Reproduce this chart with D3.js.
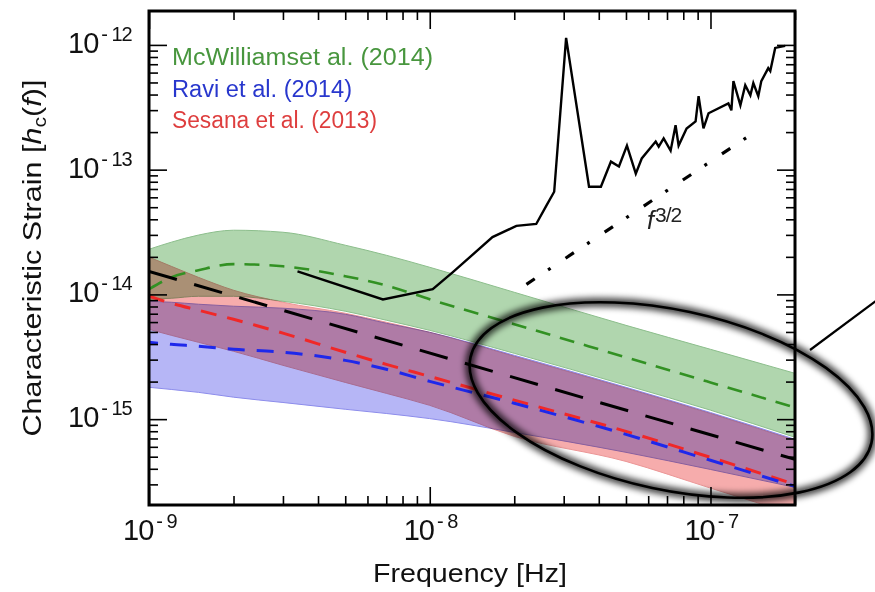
<!DOCTYPE html>
<html><head><meta charset="utf-8">
<script src="https://cdn.jsdelivr.net/npm/d3@7"></script>
<style>
body{margin:0;background:#fff;}
svg{display:block;}
text{font-family:"Liberation Sans",Arial,Helvetica,sans-serif;}
.band{mix-blend-mode:multiply;}
</style>
</head><body>
<svg id="chart" width="875" height="592"></svg>
<script>
// ---------------- data ----------------
const freq = [1e-9,1.2e-9,1.5e-9,2e-9,3e-9,5e-9,7e-9,1e-8,2e-8,5e-8,1e-7,2e-7];

const mcwUpper  = [2.30e-14,2.62e-14,2.99e-14,3.27e-14,3.15e-14,2.48e-14,2.06e-14,1.65e-14,1.04e-14,5.65e-15,3.63e-15,2.33e-15];
const mcwLower  = [9.14e-15,9.31e-15,9.66e-15,9.66e-15,8.81e-15,7.33e-15,6.21e-15,5.15e-15,3.37e-15,1.87e-15,1.18e-15,7.15e-16];
const mcwMedian = [1.10e-14,1.37e-14,1.56e-14,1.75e-14,1.68e-14,1.40e-14,1.18e-14,9.14e-15,5.77e-15,3.13e-15,1.97e-15,1.24e-15];

const raviUpper  = [8.81e-15,8.65e-15,8.34e-15,8.04e-15,7.75e-15,6.93e-15,5.87e-15,4.97e-15,3.25e-15,1.80e-15,1.13e-15,6.89e-16];
const raviLower  = [1.80e-15,1.73e-15,1.64e-15,1.50e-15,1.36e-15,1.20e-15,1.11e-15,1.01e-15,7.83e-16,5.42e-16,3.95e-16,2.84e-16];
const raviMedian = [4.13e-15,3.98e-15,3.84e-15,3.63e-15,3.44e-15,2.96e-15,2.51e-15,2.01e-15,1.34e-15,7.55e-16,4.68e-16,2.89e-16];

const sesUpper  = [1.99e-14,1.68e-14,1.37e-14,1.08e-14,8.65e-15,7.06e-15,5.98e-15,4.97e-15,3.19e-15,1.77e-15,1.11e-15,6.76e-16];
const sesLower  = [5.25e-15,4.70e-15,4.13e-15,3.50e-15,2.70e-15,1.97e-15,1.61e-15,1.29e-15,7.28e-16,4.58e-16,2.80e-16,1.72e-16];
const sesMedian = [9.66e-15,8.49e-15,7.46e-15,6.32e-15,4.89e-15,3.44e-15,2.75e-15,2.20e-15,1.42e-15,7.98e-16,4.94e-16,3.00e-16];

const combFreq   = [1e-9, 2e-7];
const combStrain = [1.53e-14, 4.76e-16];

const ptaFreq = [3.38e-9,6.81e-9,1.025e-8,1.206e-8,1.673e-8,2.035e-8,2.395e-8,2.60e-8,2.775e-8,3.06e-8,
  3.693e-8,4.07e-8,4.42e-8,4.72e-8,5.04e-8,5.42e-8,5.69e-8,6.38e-8,6.54e-8,6.81e-8,
  7.21e-8,7.51e-8,7.70e-8,8.22e-8,8.85e-8,9.07e-8,9.44e-8,9.84e-8,1.158e-7,1.187e-7,
  1.207e-7,1.278e-7,1.330e-7,1.387e-7,1.421e-7,1.480e-7,1.517e-7,1.606e-7,1.633e-7,1.700e-7,1.845e-7];
const ptaStrain = [1.53e-14,9.12e-15,1.10e-14,1.50e-14,2.88e-14,3.54e-14,3.67e-14,5.13e-14,6.65e-14,1.14e-12,
  7.30e-14,7.30e-14,1.16e-13,1.06e-13,1.56e-13,9.29e-14,1.23e-13,1.68e-13,1.53e-13,1.78e-13,
  1.42e-13,2.27e-13,1.56e-13,2.14e-13,2.44e-13,3.88e-13,2.14e-13,2.83e-13,3.40e-13,2.99e-13,
  5.13e-13,3.28e-13,4.76e-13,3.95e-13,4.94e-13,3.88e-13,5.13e-13,6.52e-13,6.17e-13,9.46e-13,9.82e-13];

const slopeFreq   = [2.21e-8, 1.48e-7];
const slopeStrain = [1.205e-14, 2.09e-13];

const xMajorTicks = [1e-9, 1e-8, 1e-7];
const xTickExps   = ["9", "8", "7"];
const yMajorTicks = [1e-15, 1e-14, 1e-13, 1e-12];
const yTickExps   = ["15", "14", "13", "12"];

const legendLabels = ["McWilliamset al. (2014)", "Ravi et al. (2014)", "Sesana et al. (2013)"];

// ---------------- chart ----------------
const svg = d3.select("#chart");
const L = 149, R = 795, T = 11, B = 505;
const x = d3.scaleLog().domain([1e-9, 2e-7]).range([L, R]);
const y = d3.scaleLog().domain([2.05e-16, 1.87e-12]).range([B, T]);

const defs = svg.append("defs");
defs.append("clipPath").attr("id","plotclip").append("rect")
  .attr("x",L).attr("y",T).attr("width",R-L).attr("height",B-T);
const blur = defs.append("filter").attr("id","blur").attr("x","-20%").attr("y","-30%").attr("width","140%").attr("height","160%");
blur.append("feGaussianBlur").attr("stdDeviation",3.2);

const plot = svg.append("g").attr("clip-path","url(#plotclip)").style("isolation","isolate");

function band(up, lo) {
  return d3.area()
    .x((d,i)=>x(freq[i]))
    .y0((d,i)=>y(lo[i]))
    .y1((d,i)=>y(up[i]))
    .curve(d3.curveMonotoneX)(freq);
}
const bands = [
  {up:mcwUpper, lo:mcwLower, fill:"rgb(176,214,174)", stroke:"rgb(140,190,140)"},
  {up:raviUpper, lo:raviLower, fill:"rgb(182,182,246)", stroke:"rgb(140,140,235)"},
  {up:sesUpper, lo:sesLower, fill:"rgb(246,172,172)", stroke:"rgb(235,150,150)"}
];
bands.forEach(b=>{
  plot.append("path").attr("class","band").attr("d", band(b.up,b.lo))
    .attr("fill", b.fill).attr("stroke", b.stroke).attr("stroke-width",1);
});

function line(fs, hs, curve) {
  return d3.line().x((d,i)=>x(fs[i])).y((d,i)=>y(hs[i])).curve(curve||d3.curveMonotoneX)(fs);
}
plot.append("path").attr("d", line(freq, mcwMedian)).attr("fill","none")
  .attr("stroke","rgb(50,145,35)").attr("stroke-width",2.6).attr("stroke-dasharray","15,10");
plot.append("path").attr("d", line(combFreq, combStrain, d3.curveLinear)).attr("fill","none")
  .attr("stroke","#000").attr("stroke-width",3).attr("stroke-dasharray","29,18");
plot.append("path").attr("d", line(freq, sesMedian)).attr("fill","none")
  .attr("stroke","rgb(240,40,40)").attr("stroke-width",3).attr("stroke-dasharray","16,11");
plot.append("path").attr("d", line(freq, raviMedian)).attr("fill","none")
  .attr("stroke","rgb(30,40,235)").attr("stroke-width",3).attr("stroke-dasharray","17,12").attr("stroke-dashoffset",8);

plot.append("path").attr("d", line(ptaFreq, ptaStrain, d3.curveLinear)).attr("fill","none")
  .attr("stroke","#000").attr("stroke-width",2.4).attr("stroke-linejoin","miter");
plot.append("path").attr("d", line(slopeFreq, slopeStrain, d3.curveLinear)).attr("fill","none")
  .attr("stroke","#000").attr("stroke-width",3.2).attr("stroke-dasharray","10,16,3,18");

// f^{3/2} label
const fl = svg.append("text").attr("x",647).attr("y",229).attr("fill","#222");
fl.append("tspan").attr("font-style","italic").attr("font-size",25).text("f");
fl.append("tspan").attr("font-size",21).attr("dy",-7).attr("dx",1).attr("letter-spacing",-1).text("3/2");

// ticks
function minorTicks(lo, hi) {
  const out = [];
  for (let e = Math.floor(Math.log10(lo)); e <= Math.ceil(Math.log10(hi)); e++)
    for (let k = 1; k <= 9; k++) { const v = k*Math.pow(10,e); if (v>=lo*0.999 && v<=hi*1.001) out.push(v); }
  return out;
}
const xMinor = minorTicks(1e-9, 2e-7).filter(v=>!xMajorTicks.some(m=>Math.abs(v/m-1)<1e-6));
const yMinor = minorTicks(2.05e-16, 1.87e-12).filter(v=>!yMajorTicks.some(m=>Math.abs(v/m-1)<1e-6));
function axisG(ax, tr) {
  svg.append("g").attr("transform",tr).call(ax).call(g=>{g.select(".domain").remove(); g.selectAll("line").attr("stroke","#000").attr("stroke-width",1.6);});
}
axisG(d3.axisBottom(x).tickValues(xMinor).tickSize(-9).tickFormat(""), `translate(0,${B})`);
axisG(d3.axisBottom(x).tickValues(xMajorTicks).tickSize(-18).tickFormat(""), `translate(0,${B})`);
axisG(d3.axisTop(x).tickValues(xMinor).tickSize(-9).tickFormat(""), `translate(0,${T})`);
axisG(d3.axisTop(x).tickValues(xMajorTicks).tickSize(-18).tickFormat(""), `translate(0,${T})`);
axisG(d3.axisLeft(y).tickValues(yMinor).tickSize(-9).tickFormat(""), `translate(${L},0)`);
axisG(d3.axisLeft(y).tickValues(yMajorTicks).tickSize(-18).tickFormat(""), `translate(${L},0)`);
axisG(d3.axisRight(y).tickValues(yMinor).tickSize(-9).tickFormat(""), `translate(${R},0)`);
axisG(d3.axisRight(y).tickValues(yMajorTicks).tickSize(-18).tickFormat(""), `translate(${R},0)`);

// frame
svg.append("rect").attr("x",L).attr("y",T).attr("width",R-L).attr("height",B-T)
  .attr("fill","none").attr("stroke","#000").attr("stroke-width",3);

// tick labels
xMajorTicks.forEach((v,i)=>{
  const t = svg.append("text").attr("x", x(v)-26).attr("y",540).attr("font-size",29).attr("fill","#111").attr("letter-spacing",-1);
  t.append("tspan").text("10");
  t.append("tspan").attr("font-size",20).attr("dy",-12).attr("dx",3).text("- " + xTickExps[i]);
});
yMajorTicks.forEach((v,i)=>{
  const t = svg.append("text").attr("x", 68).attr("y", y(v)+8).attr("font-size",29).attr("fill","#111").attr("letter-spacing",-1);
  t.append("tspan").text("10");
  t.append("tspan").attr("font-size",20).attr("dy",-12).attr("dx",3).text("- " + yTickExps[i]);
});

// axis titles
svg.append("text").attr("x",470).attr("y",582).attr("text-anchor","middle").attr("font-size",26)
  .attr("fill","#111").attr("textLength",194).attr("lengthAdjust","spacingAndGlyphs").text("Frequency [Hz]");
const yt = svg.append("text").attr("transform","translate(41,258) rotate(-90)").attr("text-anchor","middle")
  .attr("font-size",26).attr("fill","#111").attr("textLength",357).attr("lengthAdjust","spacingAndGlyphs");
yt.append("tspan").text("Characteristic Strain [");
yt.append("tspan").attr("font-style","italic").text("h");
yt.append("tspan").attr("font-size",18).attr("dy",5).text("c");
yt.append("tspan").attr("dy",-5).text("(");
yt.append("tspan").attr("font-style","italic").text("f");
yt.append("tspan").text(")]");

// legend
const legColors = ["rgb(72,150,62)","rgb(40,55,205)","rgb(222,62,62)"];
const legY = [65, 97, 128];
const legLen = [261, 180, 205];
legendLabels.forEach((s,i)=>{
  svg.append("text").attr("x",172).attr("y",legY[i]).attr("font-size",23).attr("fill",legColors[i])
    .attr("textLength",legLen[i]).attr("lengthAdjust","spacingAndGlyphs").text(s);
});

// highlight ellipse with blurred halo and pointer line
const ell = {cx:671, cy:400, rx:205, ry:90, rot:12};
svg.append("ellipse").attr("cx",ell.cx).attr("cy",ell.cy).attr("rx",ell.rx).attr("ry",ell.ry)
  .attr("transform",`rotate(${ell.rot} ${ell.cx} ${ell.cy})`).attr("fill","none")
  .attr("stroke","rgba(0,0,0,0.75)").attr("stroke-width",9).attr("filter","url(#blur)");
svg.append("ellipse").attr("cx",ell.cx).attr("cy",ell.cy).attr("rx",ell.rx).attr("ry",ell.ry)
  .attr("transform",`rotate(${ell.rot} ${ell.cx} ${ell.cy})`).attr("fill","none")
  .attr("stroke","#000").attr("stroke-width",2.6);
svg.append("line").attr("x1",810).attr("y1",350).attr("x2",880).attr("y2",298)
  .attr("stroke","#000").attr("stroke-width",2.2);
</script>
</body></html>
